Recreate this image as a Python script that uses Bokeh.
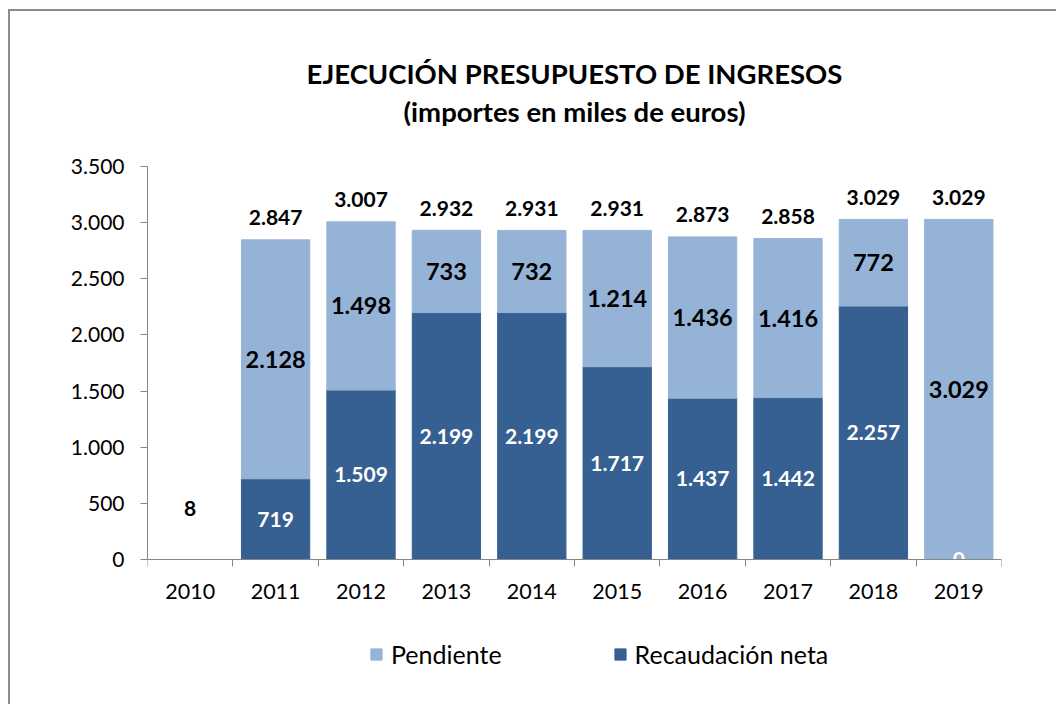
from bokeh.plotting import figure
from bokeh.models import (ColumnDataSource, Range1d, FixedTicker, Legend, LegendItem, Label)
from bokeh.core.properties import value
from bokeh.embed import file_html
from bokeh.resources import INLINE

years = ["2010", "2011", "2012", "2013", "2014", "2015", "2016", "2017", "2018", "2019"]
recaudacion = [0, 719, 1509, 2199, 2199, 1717, 1437, 1442, 2257, 0]
pendiente = [0, 2128, 1498, 733, 732, 1214, 1436, 1416, 772, 3029]
totales = [8, 2847, 3007, 2932, 2931, 2931, 2873, 2858, 3029, 3029]
y_ticks = [0, 500, 1000, 1500, 2000, 2500, 3000, 3500]
y_tick_labels = ["0", "500", "1.000", "1.500", "2.000", "2.500", "3.000", "3.500"]
title_lines = ["EJECUCIÓN PRESUPUESTO DE INGRESOS", "(importes en miles de euros)"]

DARK = "#376092"
LIGHT = "#95B3D7"
AXIS = "#868686"
FONT = "Lato"

Y_MAX = 3500
PX_PER_UNIT = 393 / Y_MAX          # axis 0..3500 spans 393 px
ABOVE_PX = 155                      # space above the 3.500 line inside the frame
BELOW_PX = 145                      # space below the 0 line inside the frame
FRAME_H = 393 + ABOVE_PX + BELOW_PX


def fmt(v):
    return f"{v:,}".replace(",", ".")


xs = [i + 0.5 for i in range(len(years))]

src = ColumnDataSource(dict(x=xs, recaudacion=recaudacion, pendiente=pendiente))

p = figure(width=1046, height=FRAME_H, output_backend="svg", toolbar_location=None,
           x_range=Range1d(0, len(years)),
           y_range=Range1d(-BELOW_PX / PX_PER_UNIT, Y_MAX + ABOVE_PX / PX_PER_UNIT),
           frame_width=854, frame_height=FRAME_H,
           min_border_left=137, min_border_top=0, min_border_right=55, min_border_bottom=0)
p.styles = {"margin-left": "8px", "margin-top": "9px",
            "border-left": "2px solid #8c8c8c", "border-top": "2px solid #8c8c8c"}
p.outline_line_color = None
p.xgrid.visible = False
p.ygrid.visible = False
p.background_fill_color = "white"
p.border_fill_color = "white"

rs = p.vbar_stack(["recaudacion", "pendiente"], x="x", width=0.8, source=src,
                  color=[DARK, LIGHT])

# axes
p.yaxis.ticker = FixedTicker(ticks=y_ticks)
p.yaxis.bounds = (0, Y_MAX)
p.yaxis.major_label_overrides = {t: l for t, l in zip(y_ticks, y_tick_labels)}
p.yaxis.axis_line_color = AXIS
p.yaxis.major_tick_line_color = AXIS
p.yaxis.major_tick_in = 0
p.yaxis.major_tick_out = 7
p.yaxis.minor_tick_line_color = None
p.yaxis.major_label_text_font = FONT
p.yaxis.major_label_text_font_size = "21px"
p.yaxis.major_label_text_color = "black"
p.yaxis.major_label_standoff = 16

p.xaxis.fixed_location = 0
p.xaxis.ticker = FixedTicker(ticks=xs, minor_ticks=list(range(len(years) + 1)))
p.xaxis.major_label_overrides = {x: y for x, y in zip(xs, years)}
p.xaxis.axis_line_color = AXIS
p.xaxis.major_tick_line_color = None
p.xaxis.minor_tick_line_color = AXIS
p.xaxis.minor_tick_in = 0
p.xaxis.minor_tick_out = 7
p.xaxis.major_label_text_font = FONT
p.xaxis.major_label_text_font_size = "21.5px"
p.xaxis.major_label_text_color = "black"
p.xaxis.major_label_standoff = 17

# totals above bars
tot_src = ColumnDataSource(dict(x=xs[1:], y=totales[1:], t=[fmt(v) for v in totales[1:]]))
p.text(x="x", y="y", text="t", source=tot_src, y_offset=-22,
       text_font=value(FONT), text_font_style="bold", text_font_size="21px",
       text_align="center", text_baseline="middle", text_color="black")
# 2010 label
p.text(x=[xs[0]], y=[450], text=[fmt(totales[0])],
       text_font=value(FONT), text_font_style="bold", text_font_size="21px",
       text_align="center", text_baseline="middle", text_color="black")

# segment labels
pend_idx = [i for i in range(len(years)) if pendiente[i] > 0]
pend_src = ColumnDataSource(dict(
    x=[xs[i] for i in pend_idx],
    y=[recaudacion[i] + pendiente[i] / 2 for i in pend_idx],
    t=[fmt(pendiente[i]) for i in pend_idx]))
p.text(x="x", y="y", text="t", source=pend_src,
       text_font=value(FONT), text_font_style="bold", text_font_size="23.5px",
       text_align="center", text_baseline="middle", text_color="black")

rec_idx = list(range(1, len(years)))
rec_src = ColumnDataSource(dict(
    x=[xs[i] for i in rec_idx],
    y=[recaudacion[i] / 2 for i in rec_idx],
    t=[fmt(recaudacion[i]) for i in rec_idx]))
p.text(x="x", y="y", text="t", source=rec_src,
       text_font=value(FONT), text_font_style="bold", text_font_size="21px",
       text_align="center", text_baseline="middle", text_color="white")

# legend (inside the extended frame, below the axis)
legend = Legend(items=[LegendItem(label="Pendiente", renderers=[rs[1]]),
                       LegendItem(label="Recaudación neta", renderers=[rs[0]])],
                orientation="horizontal", location=(222, 35),
                label_text_font=FONT, label_text_font_size="25px", label_text_color="black",
                glyph_width=14, glyph_height=14, label_standoff=8, spacing=111,
                padding=0, margin=0, border_line_color=None, background_fill_alpha=0)
p.add_layout(legend, "center")

# title (two lines), positioned above the plot area
for line, off_px in zip(title_lines, [93, 55]):
    p.add_layout(Label(x=len(years) / 2, y=Y_MAX + off_px / PX_PER_UNIT, text=line,
                       text_align="center", text_baseline="middle",
                       text_font=FONT, text_font_size="27.5px", text_font_style="bold",
                       text_color="black"))

open("out.html", "w").write(file_html(p, INLINE))
